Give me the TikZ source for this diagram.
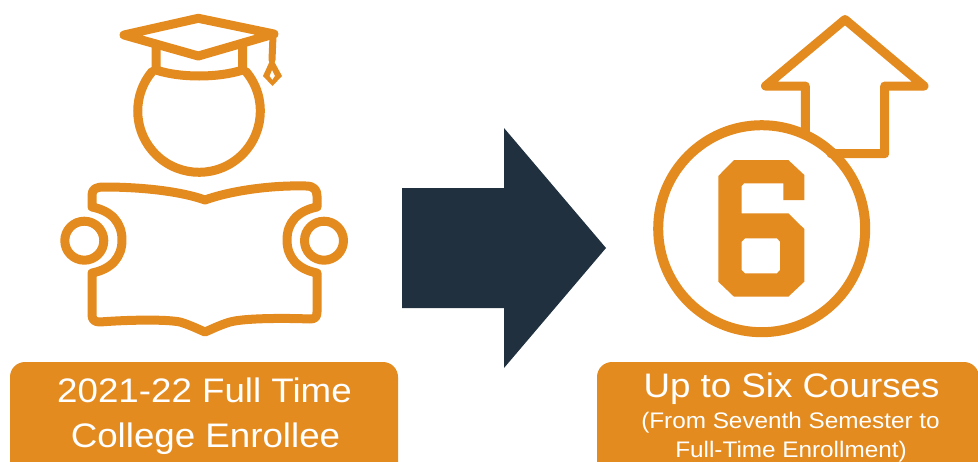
\documentclass[tikz,border=0pt]{standalone}
\usepackage{fontspec}
\newfontfamily\lab[FakeStretch=1.08]{Liberation Sans}
\definecolor{org}{RGB}{228,139,31}
\definecolor{navy}{RGB}{32,48,62}
\begin{document}
\begin{tikzpicture}[x=1pt,y=-1pt,
  icon/.style={draw=org,line width=9pt,line join=round,line cap=round},
  box/.style={fill=org,rounded corners=15pt},
  lbl/.style={text=white,anchor=base,inner sep=0pt}]
\useasboundingbox (0,0) rectangle (978,461);
\clip (0,0) rectangle (978,461);
% label boxes
\fill[box] (10,362) rectangle (398,490);
\fill[box] (597,362) rectangle (979,490);
% big arrow
\fill[navy] (402,188) -- (504,188) -- (504,128) -- (606,248) -- (504,368) -- (504,308) -- (402,308) -- cycle;
% graduate: mortarboard
\draw[icon] (124,35) -- (198.3,18.3) -- (274,34) -- (198.3,56) -- cycle;
\draw[icon] (156,44) -- (156,70) .. controls (180,78) and (218,78) .. (242.7,70) -- (242.7,43);
\draw[icon,line width=7pt] (273,36) -- (272,60);
\fill[org,even odd rule] (271.7,57) -- (263,76) -- (272.5,86) -- (282,76) -- cycle
  (272,70) -- (269.5,76) -- (272.3,80) -- (275,76) -- cycle;
% head
\draw[icon] (246,71.6) arc[start angle=-40,end angle=220,radius=61.3];
% book
\draw[icon] (92,207) -- (92,195) .. controls (92,189) and (96,187) .. (104,187)
  .. controls (140,187) and (180,191) .. (205,200)
  .. controls (230,191) and (270,185) .. (306,186)
  .. controls (314,186) and (317,190) .. (317,196)
  -- (317,207)
  .. controls (297,211) and (287,223) .. (287,240)
  .. controls (287,257) and (297,269) .. (317,273)
  -- (317,312)
  .. controls (317,317) and (315,319) .. (310,319)
  .. controls (285,318) and (245,318) .. (230,322)
  .. controls (220,325) and (212,329) .. (205,332)
  .. controls (198,329) and (190,325) .. (180,322)
  .. controls (165,319) and (125,320) .. (100,322)
  .. controls (95,322) and (92,320) .. (92,315)
  -- (92,273)
  .. controls (112,269) and (122,257) .. (122,240)
  .. controls (122,223) and (112,211) .. (92,207) -- cycle;
% hands
\draw[icon] (84.3,240.7) circle[radius=19.5];
\draw[icon] (324,240.7) circle[radius=19.5];
% six icon
\draw[icon,line width=10pt] (761.7,228.7) circle[radius=103.5];
\draw[icon] (805.3,132) -- (805.3,86) -- (765.5,86) -- (845,19.5) -- (924,86) -- (884.7,86) -- (884.7,153.7) -- (831,153.7);
\fill[org,even odd rule] (718.3,176) -- (734,160) -- (788.3,160) -- (804.3,175) -- (804.3,200) -- (783.3,200) -- (783.3,183.3) -- (744,183.3) -- (741.7,186) -- (741.7,213.3) -- (788.3,213.3) -- (804.3,229) -- (804.3,281.7) -- (788.3,296.7) -- (734,296.7) -- (718.3,281.7) -- cycle
  (745,238.3) -- (777,238.3) -- (780,241.7) -- (780,270) -- (777,273.3) -- (745,273.3) -- (741.7,270) -- (741.7,241.7) -- cycle;
% labels
\node[lbl,font=\lab\fontsize{34}{40}\selectfont] (l1) at (204.5,402) {2021-22 Full Time};
\node[lbl,font=\lab\fontsize{34}{40}\selectfont] (l2) at (205.5,447) {College Enrollee};
\node[lbl,font=\lab\fontsize{34}{40}\selectfont] (r1) at (791.5,397) {Up to Six Courses};
\node[lbl,font=\lab\fontsize{22.5}{27}\selectfont] (r2) at (790.5,428) {(From Seventh Semester to};
\node[lbl,font=\lab\fontsize{22.5}{27}\selectfont] (r3) at (791,457) {Full-Time Enrollment)};
\end{tikzpicture}
\end{document}
